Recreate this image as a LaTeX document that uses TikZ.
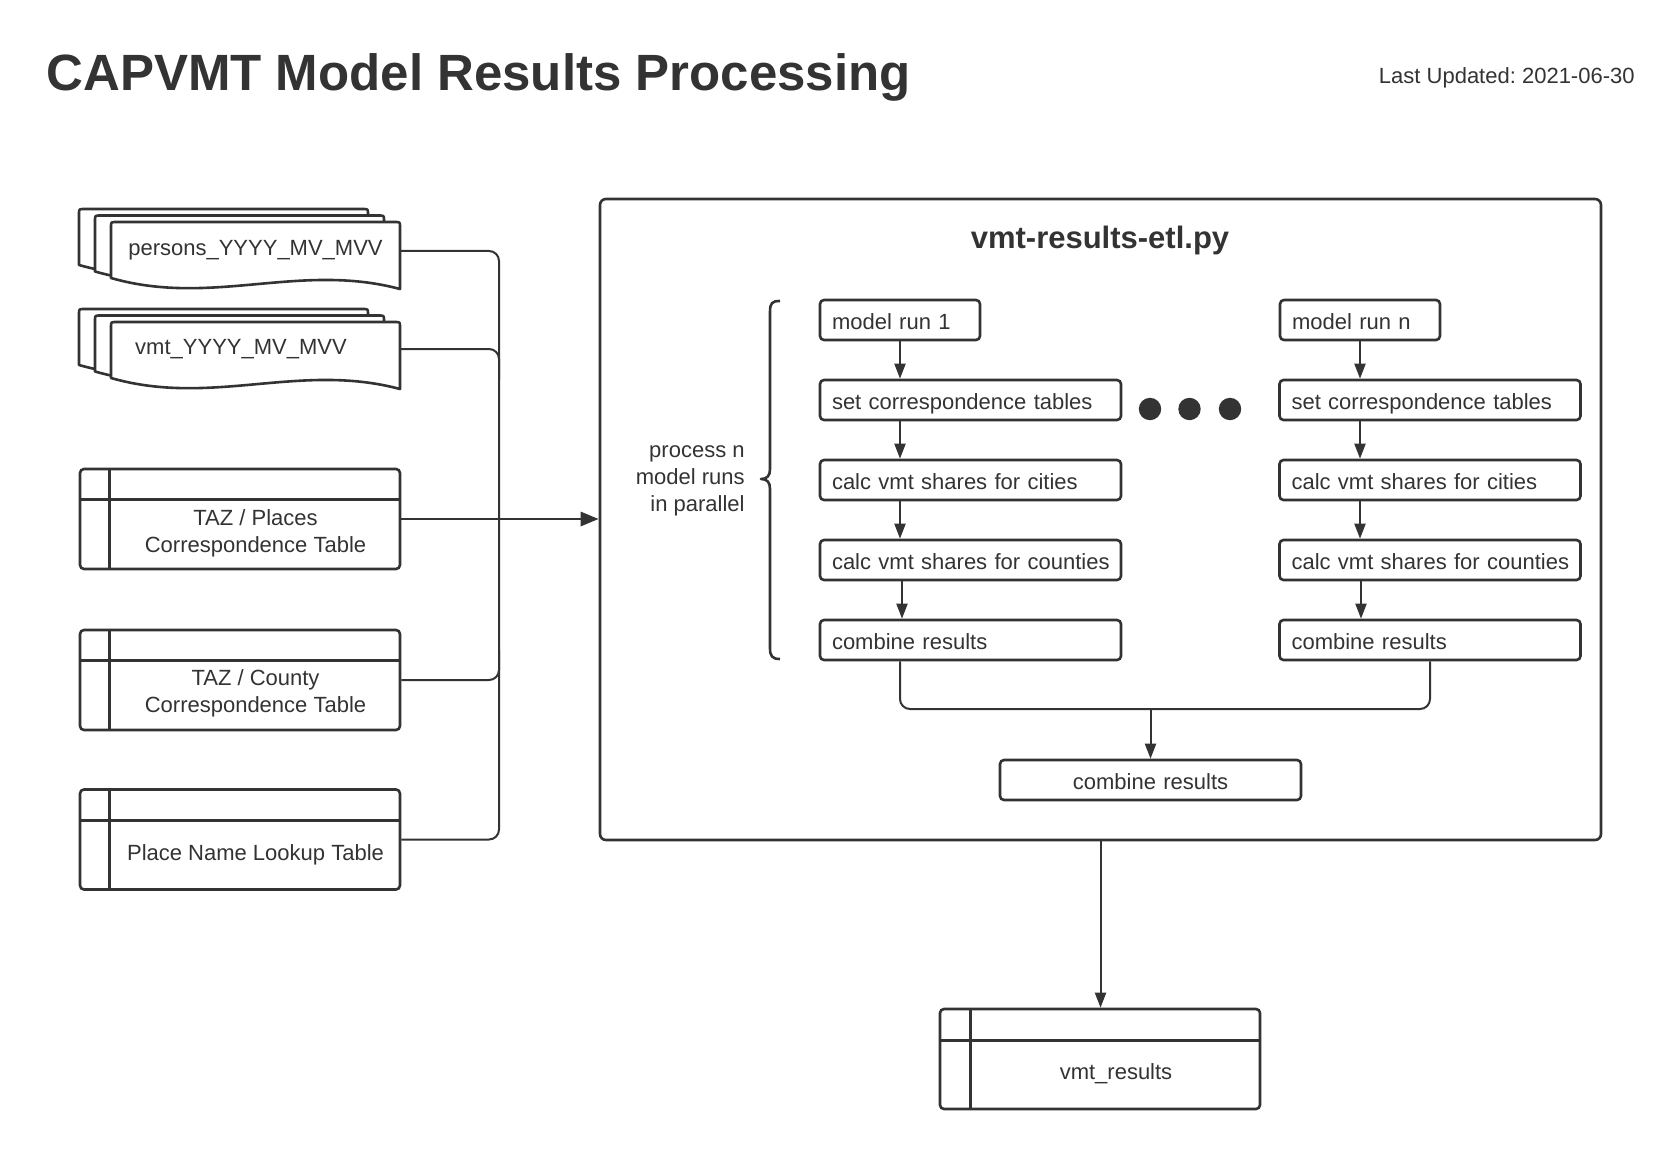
\documentclass[tikz,border=0pt]{standalone}
\usepackage{fontspec}
\setmainfont{Liberation Sans}
\usetikzlibrary{arrows.meta}
\definecolor{ink}{HTML}{333333}
\newcommand\capdoc[2]{\filldraw[draw=ink, fill=white, line width=1.3pt, line join=round]
 (#1,#2+56) -- (#1,#2+5) .. controls (#1,#2) .. (#1+5,#2) -- (#1+284,#2)
 .. controls (#1+289,#2) .. (#1+289,#2+5) -- (#1+289,#2+67)
 .. controls (#1+187.85,#2+40) and (#1+101.15,#2+85) .. (#1,#2+56) -- cycle;}
\frenchspacing
\begin{document}
\begin{tikzpicture}[x=0.5pt,y=-0.5pt,
  font=\fontsize{11}{13.4}\selectfont, text=ink,
  box/.style={draw=ink, line width=1.3pt, rounded corners=2pt, fill=white,
    minimum height=20pt, inner ysep=0pt, inner xsep=6pt, align=left,
    text height=12pt, text depth=2.3pt},
  wbox/.style={box, text width=138.5pt},
  nbox/.style={box, text width=68pt},
  conn/.style={draw=ink, line width=1pt},
  tip/.style={-{Triangle[length=7.5pt,width=5.5pt]}},
  bigtip/.style={-{Triangle[length=9pt,width=7pt]}},
  tabbox/.style={draw=ink, line width=1.3pt, rounded corners=2pt, fill=white,
    minimum width=160pt, minimum height=50pt, inner sep=0pt},
  tabline/.style={draw=ink, line width=1.3pt},
  dot/.style={circle, fill=ink, minimum size=11.2pt, inner sep=0pt}
]
\useasboundingbox (0,0) rectangle (1680,1150);

% title
\node[anchor=base west, inner sep=0pt, font=\fontsize{25.5}{30}\selectfont\bfseries] (title) at (46,91) {CAPVMT Model Results Processing};
\node[anchor=base east, inner sep=0pt] (upd) at (1635,84) {Last Updated: 2021-06-30};

% document stacks
\capdoc{79}{209}\capdoc{95}{215.5}\capdoc{111}{222}
\node (pers) at (255.5,250) {persons\_YYYY\_MV\_MVV};
\capdoc{79}{309}\capdoc{95}{315.5}\capdoc{111}{322}
\node (vmt) at (241,349) {vmt\_YYYY\_MV\_MVV};
\coordinate (persR) at (400,251);
\coordinate (vmtR) at (400,349);

% tables
\node[tabbox] (t1) at (240,519) {};
\draw[tabline] ([yshift=-16pt]t1.north west) -- ([yshift=-16pt]t1.north east);
\draw[tabline] ([xshift=15.5pt]t1.north west) -- ([xshift=15.5pt]t1.south west);
\node[align=center] (t1t) at (255.5,533) {TAZ / Places\\Correspondence Table};

\node[tabbox] (t2) at (240,680) {};
\draw[tabline] ([yshift=-16pt]t2.north west) -- ([yshift=-16pt]t2.north east);
\draw[tabline] ([xshift=15.5pt]t2.north west) -- ([xshift=15.5pt]t2.south west);
\node[align=center] (t2t) at (255.5,693) {TAZ / County\\Correspondence Table};

\node[tabbox] (t3) at (240,839.5) {};
\draw[tabline] ([yshift=-16pt]t3.north west) -- ([yshift=-16pt]t3.north east);
\draw[tabline] ([xshift=15.5pt]t3.north west) -- ([xshift=15.5pt]t3.south west);
\node (t3t) at (255.5,855) {Place Name Lookup Table};

\node[tabbox] (res) at (1100,1059) {};
\draw[tabline] ([yshift=-16.5pt]res.north west) -- ([yshift=-16.5pt]res.north east);
\draw[tabline] ([xshift=16pt]res.north west) -- ([xshift=16pt]res.south west);
\node (rest) at (1116,1074) {vmt\_results};

% container
\node[draw=ink, line width=1.3pt, rounded corners=3pt, minimum width=500.5pt, minimum height=320.5pt, inner sep=0pt] (etl) at (1100.5,519.5) {};
\node[anchor=base, inner sep=0pt, font=\fontsize{15.5}{18}\selectfont\bfseries] (etlt) at (1100,249) {vmt-results-etl.py};

% bus connectors
\draw[conn, rounded corners=5pt] (persR) -| (499,839.5) -- (t3.east);
\draw[conn, rounded corners=5pt] (vmtR) -- (499,349) -- (499,380);
\draw[conn, rounded corners=5pt] (t2.east) -- (499,680) -- (499,650);
\draw[conn] (t1.east) -- (499,519);
\draw[conn, line width=1.4pt, bigtip] (499,519) -- (t1.east -| etl.west);

% brace and label
\draw[draw=ink, line width=1.3pt, line join=round]
 (780,301) .. controls (772,301) and (770,303) .. (770,312) -- (770,469)
 .. controls (770,476) and (767,479) .. (761,479)
 .. controls (767,479) and (770,482) .. (770,489) -- (770,648)
 .. controls (770,656) and (772,659) .. (780,659);
\node[anchor=east, align=right, inner sep=0pt] (par) at (745,481) {process n\\model runs\\in parallel};

% left column
\node[nbox] (m1) at (900,320) {model run 1};
\node[wbox] (s1) at (970.5,400) {set correspondence tables};
\node[wbox] (c1) at (970.5,480) {calc vmt shares for cities};
\node[wbox] (k1) at (970.5,560) {\mbox{calc vmt shares for counties}};
\node[wbox] (r1) at (970.5,640) {combine results};
\draw[conn, tip] (m1.south) -- (m1.south |- s1.north);
\draw[conn, tip] (m1.south |- s1.south) -- (m1.south |- c1.north);
\draw[conn, tip] (m1.south |- c1.south) -- (m1.south |- k1.north);
\draw[conn, tip] ([xshift=1pt]m1.south |- k1.south) -- ([xshift=1pt]m1.south |- r1.north);

% right column
\node[nbox] (mn) at (1360,320) {model run n};
\node[wbox] (sn) at (1430,400) {set correspondence tables};
\node[wbox] (cn) at (1430,480) {calc vmt shares for cities};
\node[wbox] (kn) at (1430,560) {\mbox{calc vmt shares for counties}};
\node[wbox] (rn) at (1430,640) {combine results};
\draw[conn, tip] (mn.south) -- (mn.south |- sn.north);
\draw[conn, tip] (mn.south |- sn.south) -- (mn.south |- cn.north);
\draw[conn, tip] (mn.south |- cn.south) -- (mn.south |- kn.north);
\draw[conn, tip] ([xshift=0.5pt]mn.south |- kn.south) -- ([xshift=0.5pt]mn.south |- rn.north);

% dots
\node[dot] (d1) at (1150,409) {};
\node[dot] (d2) at (1189.5,409) {};
\node[dot] (d3) at (1230,409) {};

% combine
\coordinate (join) at (1150.5,709);
\node[box, text width=138.5pt, align=center] (fin) at (1150.5,780) {combine results};
\draw[conn, rounded corners=5pt] (m1.south |- r1.south) |- (join) -| (rn.south);
\draw[conn, tip] (join) -- (fin.north);

% output
\draw[conn, tip] (etl.south) -- (etl.south |- res.north);
\end{tikzpicture}
\end{document}
